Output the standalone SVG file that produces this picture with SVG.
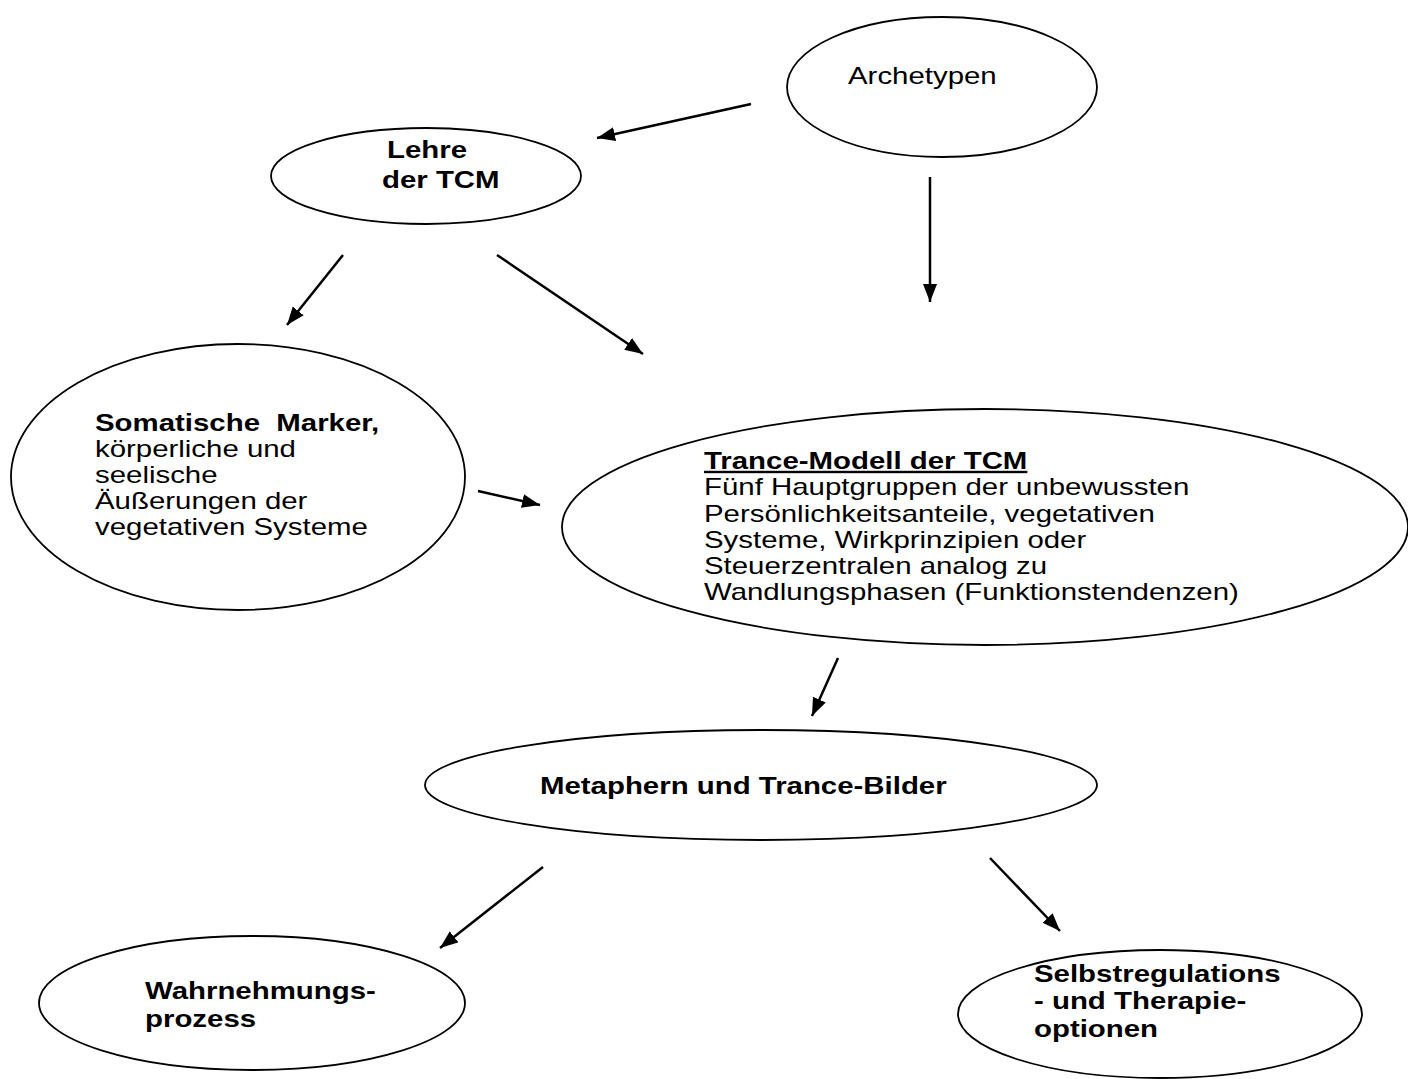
<svg xmlns="http://www.w3.org/2000/svg" width="1408" height="1079" viewBox="0 0 1408 1079">
<style>
.node ellipse{fill:#fff;stroke:#000;stroke-width:1.8}
text{font-family:"Liberation Sans",Arial,sans-serif;font-size:24px;fill:#000}
.b{font-weight:bold}
.conn line{stroke:#000;stroke-width:2.5;marker-end:url(#ah)}
</style>
<defs>
<marker id="ah" markerUnits="userSpaceOnUse" markerWidth="20" markerHeight="16" refX="18" refY="7" orient="auto">
<path d="M0,0 L18,7 L0,14 z" fill="#000"/>
</marker>
</defs>
<rect width="1408" height="1079" fill="#fff"/>
<g id="archetypen" class="node">
<ellipse cx="942" cy="87" rx="155" ry="70"/>
<text transform="translate(848,84) scale(1.225,1)">Archetypen</text>
</g>
<g id="lehre" class="node">
<ellipse cx="426" cy="176" rx="155" ry="48"/>
<text class="b" transform="translate(387,158) scale(1.225,1)">Lehre</text>
<text class="b" transform="translate(382,188) scale(1.225,1)">der TCM</text>
</g>
<g id="somatische" class="node">
<ellipse cx="238" cy="477" rx="227" ry="133"/>
<text transform="translate(95,431) scale(1.225,1)"><tspan x="0" y="0" class="b" xml:space="preserve">Somatische  Marker,</tspan><tspan x="0" y="26">körperliche und</tspan><tspan x="0" y="52">seelische</tspan><tspan x="0" y="78">Äußerungen der</tspan><tspan x="0" y="104">vegetativen Systeme</tspan></text>
</g>
<g id="trance" class="node">
<ellipse cx="985" cy="527" rx="423" ry="118"/>
<text transform="translate(704,469) scale(1.225,1)"><tspan x="0" y="0" class="b" text-decoration="underline">Trance-Modell der TCM</tspan><tspan x="0" y="26.3">Fünf Hauptgruppen der unbewussten</tspan><tspan x="0" y="52.6">Persönlichkeitsanteile, vegetativen</tspan><tspan x="0" y="78.9">Systeme, Wirkprinzipien oder</tspan><tspan x="0" y="105.2">Steuerzentralen analog zu</tspan><tspan x="0" y="131.5">Wandlungsphasen (Funktionstendenzen)</tspan></text>
</g>
<g id="metaphern" class="node">
<ellipse cx="761" cy="785" rx="336" ry="55"/>
<text class="b" transform="translate(540,794) scale(1.225,1)">Metaphern und Trance-Bilder</text>
</g>
<g id="wahrnehmung" class="node">
<ellipse cx="252" cy="1003" rx="213" ry="67"/>
<text class="b" transform="translate(145,999) scale(1.225,1)"><tspan x="0" y="0">Wahrnehmungs-</tspan><tspan x="0" y="28">prozess</tspan></text>
</g>
<g id="selbst" class="node">
<ellipse cx="1160" cy="1014" rx="202" ry="64"/>
<text class="b" transform="translate(1034,982) scale(1.225,1)"><tspan x="0" y="0">Selbstregulations</tspan><tspan x="0" y="27">- und Therapie-</tspan><tspan x="0" y="55">optionen</tspan></text>
</g>
<g id="connectors" class="conn">
<line x1="751" y1="104" x2="597" y2="138"/>
<line x1="930" y1="177" x2="930" y2="302"/>
<line x1="343" y1="255" x2="287" y2="325"/>
<line x1="497" y1="255" x2="643" y2="354"/>
<line x1="478" y1="491" x2="540" y2="505"/>
<line x1="838" y1="658" x2="812" y2="716"/>
<line x1="543" y1="867" x2="440" y2="948"/>
<line x1="990" y1="858" x2="1060" y2="931"/>
</g>
</svg>
